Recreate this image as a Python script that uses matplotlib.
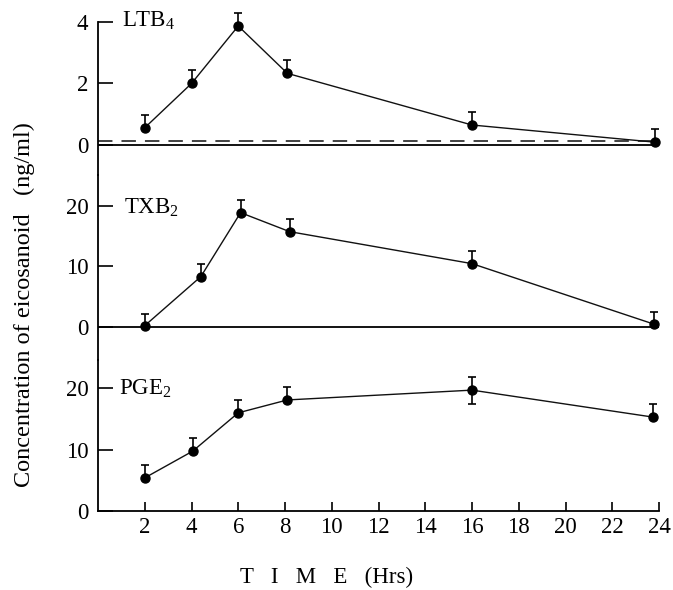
import matplotlib
matplotlib.use("Agg")
import matplotlib.pyplot as plt

plt.rcParams['font.family'] = ['Liberation Serif', 'DejaVu Serif']
plt.rcParams['mathtext.fontset'] = 'custom'
plt.rcParams['mathtext.rm'] = 'Liberation Serif'
plt.rcParams['mathtext.it'] = 'Liberation Serif:italic'

# ---- data ----
ltb4_x = [2, 4, 6, 8.1, 16, 23.85]
ltb4_y = [0.56, 2.0, 3.87, 2.33, 0.65, 0.09]
ltb4_err_up = [0.42, 0.44, 0.43, 0.42, 0.43, 0.43]
ltb4_baseline = 0.14

txb2_x = [2, 4.4, 6.1, 8.2, 16, 23.8]
txb2_y = [0.17, 8.3, 18.9, 15.75, 10.45, 0.4]
txb2_err_up = [2.0, 2.1, 2.1, 2.05, 2.15, 2.1]

pge2_x = [2, 4.05, 6.0, 8.1, 16, 23.75]
pge2_y = [5.4, 9.75, 16.0, 18.1, 19.7, 15.3]
pge2_err_up = [2.1, 2.15, 2.1, 2.1, 2.1, 2.1]
pge2_err_dn = [0, 0, 0, 0, 2.3, 0]

x_ticks = [2, 4, 6, 8, 10, 12, 14, 16, 18, 20, 22, 24]
ltb4_ticks = [0, 2, 4]
txb2_ticks = [0, 10, 20]
pge2_ticks = [0, 10, 20]

W, H = 673, 590
fig = plt.figure(figsize=(W / 100, H / 100), dpi=100)

FS = 16.5
left = 98 / W
width = (659 - 98) / W

def px_axes(top, bottom):
    return fig.add_axes([left, (H - bottom) / H, width, (bottom - top) / H])

ax1 = px_axes(22, 175)
ax2 = px_axes(175, 360)
ax3 = px_axes(360, 511)

ax1.set_ylim(-0.976, 4)
ax2.set_ylim(-5.52, 25.14)
ax3.set_ylim(0, 24.61)

line_kw = dict(color='#111111', lw=1.0, marker='o', ms=6.5, mfc='black',
               mec='black', ecolor='black', elinewidth=1.2, capsize=2.7,
               capthick=1.2)

def draw(ax, x, y, yerr):
    cont = ax.errorbar(x, y, yerr=yerr, **line_kw)
    for art in cont.get_children():
        art.set_clip_on(False)

draw(ax1, ltb4_x, ltb4_y, [[0] * len(ltb4_y), ltb4_err_up])
draw(ax2, txb2_x, txb2_y, [[0] * len(txb2_y), txb2_err_up])
draw(ax3, pge2_x, pge2_y, [pge2_err_dn, pge2_err_up])

ax1.axhline(0, color='black', lw=1.3, zorder=1)
ax1.axhline(ltb4_baseline, color='#333333', lw=1.3, dashes=(8, 5), zorder=1)
ax2.axhline(0, color='black', lw=1.3, zorder=1)

for ax, ticks in ((ax1, ltb4_ticks), (ax2, txb2_ticks), (ax3, pge2_ticks)):
    ax.set_xlim(0, 24)
    ax.set_facecolor('none')
    for s in ('top', 'right'):
        ax.spines[s].set_visible(False)
    ax.spines['left'].set_linewidth(1.3)
    ax.set_yticks(ticks)
    ax.tick_params(axis='y', direction='in', length=11, width=1.2,
                   pad=7, labelsize=FS, colors='black')
    ax.tick_params(axis='x', direction='in', length=6.5, width=1.2,
                   pad=4, labelsize=FS)

for ax in (ax1, ax2):
    ax.spines['bottom'].set_visible(False)
    ax.set_xticks([])

ax3.spines['bottom'].set_linewidth(1.3)
ax3.set_xticks(x_ticks)

# panel labels
def fig_text(xp, yp, s, **kw):
    fig.text(xp / W, (H - yp) / H, s, fontsize=FS, **kw)

fig_text(122, 27, r'LTB$_4$', va='baseline', ha='left')
fig_text(124, 214, r'TXB$_2$', va='baseline', ha='left')
fig_text(119, 395, r'PGE$_2$', va='baseline', ha='left')

# axis labels
fig_text(327, 583, 'T   I   M   E   (Hrs)', va='baseline', ha='center')
fig.text(24 / W, (H - 305) / H, 'Concentration of eicosanoid   (ng/ml)',
         fontsize=17.5, rotation=90, ha='center', va='center')

fig.savefig('out.png', dpi=100)
